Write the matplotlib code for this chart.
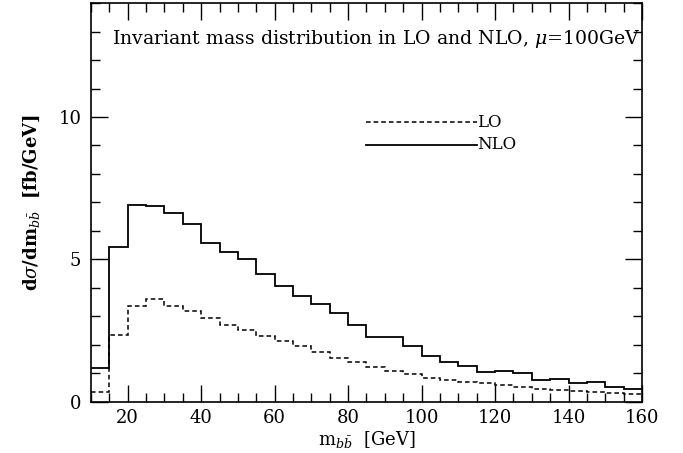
#!/usr/bin/env python3
# -*- coding: utf-8 -*-

import numpy as np
from matplotlib import pyplot as plt
from matplotlib.ticker import MultipleLocator

# bin edges in GeV, 5 GeV bins from 10 to 160
edges = np.arange(10, 161, 5)

# d sigma / d m_bb [fb/GeV]
nlo = [1.18, 5.45, 6.91, 6.87, 6.64, 6.24, 5.57, 5.27, 5.00, 4.49,
       4.06, 3.72, 3.44, 3.13, 2.68, 2.26, 2.27, 1.95, 1.60, 1.40,
       1.26, 1.05, 1.08, 1.02, 0.76, 0.80, 0.64, 0.70, 0.52, 0.46]
lo = [0.34, 2.34, 3.35, 3.59, 3.35, 3.19, 2.94, 2.71, 2.52, 2.32,
      2.12, 1.94, 1.73, 1.54, 1.40, 1.22, 1.08, 0.96, 0.85, 0.76,
      0.71, 0.64, 0.57, 0.52, 0.45, 0.42, 0.38, 0.33, 0.29, 0.28]

# legend sample segments
key_x = [85, 115]
key_y_lo = 9.82
key_y_nlo = 9.03


def plot_data():
    plt.rcParams['font.family'] = 'DejaVu Serif'
    plt.rcParams['mathtext.fontset'] = 'dejavuserif'

    fig = plt.figure(figsize=(6.83, 4.53), dpi=100)
    ax = fig.add_axes([0.1332, 0.1132, 0.8068, 0.880])

    ax.stairs(lo, edges, color='black', lw=1.1, ls=(0, (3, 2)), baseline=None)
    ax.stairs(nlo, edges, color='black', lw=1.3, baseline=None)

    # hand-drawn key like the original
    ax.plot(key_x, [key_y_lo, key_y_lo], color='black', lw=1.1, ls=(0, (3, 2)))
    ax.plot(key_x, [key_y_nlo, key_y_nlo], color='black', lw=1.3)
    ax.text(key_x[1], key_y_lo, 'LO', fontsize=12, va='center', ha='left')
    ax.text(key_x[1], key_y_nlo, 'NLO', fontsize=12, va='center', ha='left')

    ax.text(159.5, 12.75, r'Invariant mass distribution in LO and NLO, $\mu$=100GeV',
            fontsize=13.6, ha='right', va='center')

    ax.set_xlim(10, 160)
    ax.set_ylim(0, 14)
    ax.xaxis.set_major_locator(MultipleLocator(20))
    ax.xaxis.set_minor_locator(MultipleLocator(5))
    ax.yaxis.set_major_locator(MultipleLocator(5))
    ax.yaxis.set_minor_locator(MultipleLocator(1))
    ax.set_xticks([20, 40, 60, 80, 100, 120, 140, 160])
    ax.tick_params(which='both', direction='in', top=True, right=True, width=1.0)
    ax.tick_params(which='major', length=12, labelsize=13)
    ax.tick_params(which='minor', length=6.5)
    ax.tick_params(axis='x', which='major', pad=5)
    ax.tick_params(axis='y', which='major', pad=7)
    for s in ax.spines.values():
        s.set_linewidth(1.2)

    ax.set_xlabel(r'm$_{b\bar{b}}$  [GeV]', fontsize=13, labelpad=2)
    ax.set_ylabel(r'd$\sigma$/dm$_{b\bar{b}}$  [fb/GeV]', fontsize=13,
                  fontweight='bold', labelpad=12)

    fig.savefig('out.png', dpi=100)


def main():
    plot_data()


if __name__ == "__main__":
    main()
